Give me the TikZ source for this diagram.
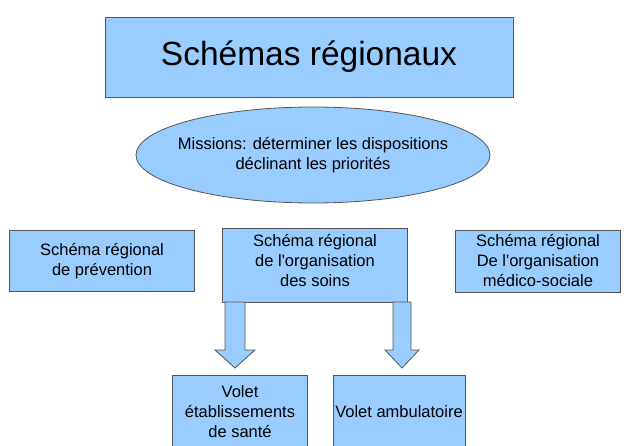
\documentclass[tikz,border=0pt]{standalone}
\usepackage{fontspec}
\setmainfont{Liberation Sans}
\usetikzlibrary{shapes.geometric}
\definecolor{boxfill}{HTML}{99CCFF}
\definecolor{boxline}{HTML}{555555}
\newcommand{\apos}{\textquotesingle}
\begin{document}
\begin{tikzpicture}[x=1pt,y=-1pt,
  box/.style={draw=boxline,fill=boxfill,line width=0.8pt,inner sep=0pt,align=center,font=\fontsize{16.5}{20}\selectfont},
  txt/.style={align=center,font=\fontsize{16.5}{20}\selectfont,inner sep=0pt},
  blockarrow/.style={draw=boxline,fill=boxfill,line width=0.8pt}]
\useasboundingbox (0,0) rectangle (631,446);
\node[box,minimum width=408,minimum height=80,font=\fontsize{33.5}{38}\selectfont] (title) at (309,57) {Schémas régionaux};
\node[draw=boxline,fill=boxfill,line width=0.8pt,ellipse,minimum width=354,minimum height=96,inner sep=0pt] (missions) at (313,155) {};
\node[txt] (missionstxt) at (313,155) {Missions: déterminer les dispositions\\déclinant les priorités};
\node[box,minimum width=185,minimum height=61] (prev) at (102,261) {Schéma régional\\de prévention};
\node[box,minimum width=185,minimum height=74] (soins) at (315,265) {};
\node[txt] (soinstxt) at (315,261) {Schéma régional\\de l\apos organisation\\des soins};
\node[box,minimum width=165,minimum height=62] (medico) at (538,261) {Schéma régional\\De l\apos organisation\\médico-sociale};
\node[box,minimum width=135,minimum height=90,anchor=north] (etab) at (240,375) {};
\node[txt] (etabtxt) at (240,412) {Volet\\établissements\\de santé};
\node[box,minimum width=132,minimum height=90,anchor=north] (amb) at (399,375) {};
\node[txt] (ambtxt) at (399,412) {Volet ambulatoire};
\draw[blockarrow] (225,302) -- (245,302) -- (245,350) -- (255,350) -- (235,368) -- (215,350) -- (225,350) -- cycle;
\draw[blockarrow] (393,302) -- (411,302) -- (411,350) -- (419,350) -- (402,368) -- (385,350) -- (393,350) -- cycle;
\end{tikzpicture}
\end{document}
